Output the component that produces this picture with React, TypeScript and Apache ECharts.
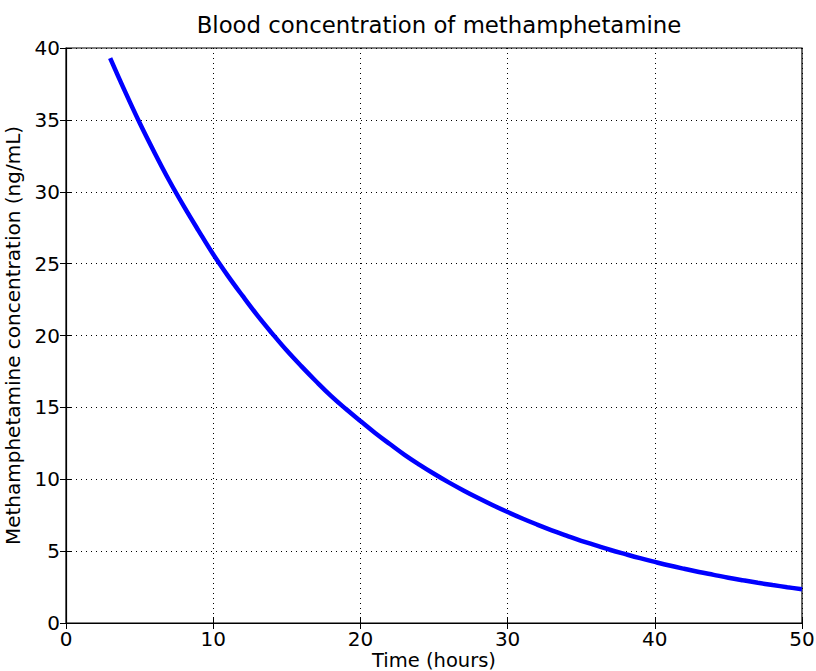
import React, { useEffect, useRef } from "react";
import * as echarts from "echarts";

// Hours after dose
const hours = [
  3, 4, 5, 6, 7, 8, 9, 10, 11, 12, 13, 14, 15, 16, 17, 18, 19, 20, 21, 22, 23, 24, 25, 26,
  27, 28, 29, 30, 31, 32, 33, 34, 35, 36, 37, 38, 39, 40, 41, 42, 43, 44, 45, 46, 47, 48, 49, 50,
];
// Blood concentration, ng/mL
const concentration = [
  39.3, 37.0, 34.8, 32.75, 30.8, 29.0, 27.3, 25.65, 24.15, 22.75, 21.4, 20.15, 18.95, 17.85, 16.8,
  15.8, 14.9, 14.05, 13.22, 12.45, 11.7, 11.02, 10.38, 9.78, 9.22, 8.69, 8.19, 7.72, 7.27, 6.85,
  6.45, 6.08, 5.72, 5.4, 5.08, 4.79, 4.51, 4.25, 4.0, 3.77, 3.55, 3.35, 3.15, 2.97, 2.8, 2.64,
  2.49, 2.35,
];

const titleText = "Blood concentration of methamphetamine";
const xName = "Time (hours)";
const yName = "Methamphetamine concentration (ng/mL)";

const FONT = "DejaVu Sans";

export default function App() {
  const ref = useRef<HTMLDivElement>(null);

  useEffect(() => {
    if (!ref.current) return;
    const chart = echarts.init(ref.current, null, { renderer: "svg" });
    const points = hours.map((h, i) => [h, concentration[i]]);
    const tickStyle = { show: true, inside: true, length: 6, lineStyle: { color: "#000", width: 1 } };
    const splitStyle = { show: true, lineStyle: { color: "#000", type: [1, 4] as any, width: 1 } };
    const labelFont = { fontFamily: FONT, fontSize: 20, color: "#000" };
    chart.setOption({
      animation: false,
      backgroundColor: "#fff",
      title: {
        text: titleText,
        left: 434,
        textAlign: "center",
        top: 8,
        textStyle: { fontFamily: FONT, fontSize: 22.8, fontWeight: "normal", color: "#000" },
      },
      grid: {
        left: 66,
        right: 14,
        top: 48,
        bottom: 48,
        outerBoundsMode: "none",
        containLabel: false,
        show: true,
        borderColor: "#000",
        borderWidth: 1.2,
      },
      xAxis: [
        {
          type: "value",
          min: 0,
          max: 50,
          interval: 10,
          name: xName,
          nameLocation: "middle",
          nameGap: 27,
          nameMoveOverlap: false,
          nameTextStyle: { ...labelFont, fontSize: 19.5, lineHeight: 20 },
          axisLine: { show: true, lineStyle: { color: "#000", width: 1.2 } },
          axisTick: tickStyle,
          axisLabel: { ...labelFont, margin: 6 },
          splitLine: splitStyle,
        },
        {
          type: "value",
          position: "top",
          min: 0,
          max: 50,
          interval: 10,
          axisLine: { show: false },
          axisTick: tickStyle,
          axisLabel: { show: false },
          splitLine: { show: false },
        },
      ],
      yAxis: [
        {
          type: "value",
          min: 0,
          max: 40,
          interval: 5,
          name: yName,
          nameLocation: "middle",
          nameGap: 43,
          nameMoveOverlap: false,
          nameTextStyle: labelFont,
          axisLine: { show: true, lineStyle: { color: "#000", width: 1.2 } },
          axisTick: tickStyle,
          axisLabel: { ...labelFont, margin: 6 },
          splitLine: splitStyle,
        },
        {
          type: "value",
          position: "right",
          min: 0,
          max: 40,
          interval: 5,
          axisLine: { show: false },
          axisTick: tickStyle,
          axisLabel: { show: false },
          splitLine: { show: false },
        },
      ],
      series: [
        {
          type: "line",
          data: points,
          showSymbol: false,
          smooth: 0.4,
          lineStyle: { color: "#0000ff", width: 4.5 },
          itemStyle: { color: "#0000ff" },
        },
      ],
    });
    return () => chart.dispose();
  }, []);

  return <div ref={ref} style={{ width: 816, height: 671, position: "absolute", left: 0, top: 0 }} />;
}
